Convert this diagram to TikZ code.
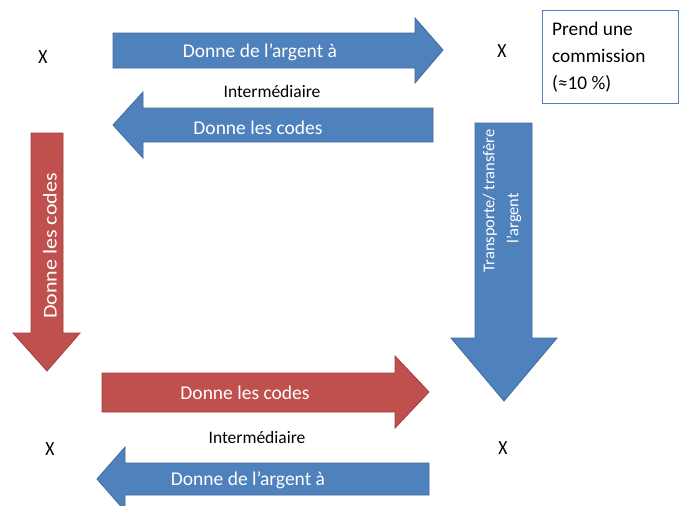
\documentclass[tikz,border=0pt]{standalone}
\usepackage{fontspec}
\setmainfont{Carlito}
\begin{document}
\begin{tikzpicture}[x=1pt,y=-1pt,
  bluearrow/.style={fill={rgb,255:red,79;green,129;blue,189},draw={rgb,255:red,65;green,106;blue,156},line width=0.8pt,line join=miter},
  redarrow/.style={fill={rgb,255:red,192;green,80;blue,77},draw={rgb,255:red,160;green,62;blue,60},line width=0.8pt,line join=miter},
  intext/.style={text=white,font=\fontsize{19.5}{21}\selectfont,inner sep=0pt},
  vtext/.style={text=white,font=\fontsize{19.5}{21}\selectfont,inner sep=0pt,rotate=90},
  vsmall/.style={text=white,font=\fontsize{16.5}{18}\selectfont,inner sep=0pt,rotate=90},
  plain/.style={text=black,font=\fontsize{17.5}{20}\selectfont,inner sep=0pt},
  xmark/.style={text=black,font=\fontsize{17.5}{20}\selectfont,inner sep=0pt}]
\useasboundingbox (0,0) rectangle (683,506);
\clip (0,0) rectangle (683,506);
% top right arrow
\draw[bluearrow] (113,33) -- (415,33) -- (415,18) -- (443,50) -- (415,83) -- (415,68) -- (113,68) -- cycle;
% top left arrow
\draw[bluearrow] (433,108) -- (143,108) -- (143,92) -- (113,125) -- (143,158) -- (143,142) -- (433,142) -- cycle;
% red down arrow
\draw[redarrow] (31,133) -- (63,133) -- (63,333) -- (80,333) -- (47,371) -- (13,333) -- (31,333) -- cycle;
% blue down arrow
\draw[bluearrow] (475,123) -- (532,123) -- (532,338) -- (557,338) -- (504,401) -- (451,338) -- (475,338) -- cycle;
% bottom red right arrow
\draw[redarrow] (102,373) -- (395,373) -- (395,356) -- (429,392) -- (395,428) -- (395,412) -- (102,412) -- cycle;
% bottom blue left arrow
\draw[bluearrow] (429,463) -- (125,463) -- (125,447) -- (97,479) -- (125,511) -- (125,495) -- (429,495) -- cycle;
% texts in arrows
\node[intext] (t1) at (260,52) {Donne de l’argent à};
\node[intext] (t2) at (258,128) {Donne les codes};
\node[vtext] (t3) at (50,246) {\scalebox{1.13}[1]{Donne les codes}};
\node[vsmall] (t4) at (490,201) {Transporte/ transfère};
\node[vsmall] (t5) at (514,218) {l’argent};
\node[intext] (t6) at (245,393) {Donne les codes};
\node[intext] (t7) at (248,480) {Donne de l’argent à};
% plain texts
\node[plain] (i1) at (272,91) {Intermédiaire};
\node[plain] (i2) at (257,437) {Intermédiaire};
\node[xmark] (x1) at (43,57) {\scalebox{1}[1.15]{X}};
\node[xmark] (x2) at (502,51) {\scalebox{1}[1.15]{X}};
\node[xmark] (x3) at (50,449) {\scalebox{1}[1.15]{X}};
\node[xmark] (x4) at (503,448) {\scalebox{1}[1.15]{X}};
% box
\node[draw={rgb,255:red,79;green,129;blue,189},line width=1.2pt,minimum width=136pt,minimum height=93pt,anchor=north west,inner sep=0pt] (box) at (542,10) {};
\node[plain,anchor=north west,align=left,font=\fontsize{19.3}{27}\selectfont] (boxtext) at (552,22) {Prend une\\commission\\(≈10 \%)};
\end{tikzpicture}
\end{document}
